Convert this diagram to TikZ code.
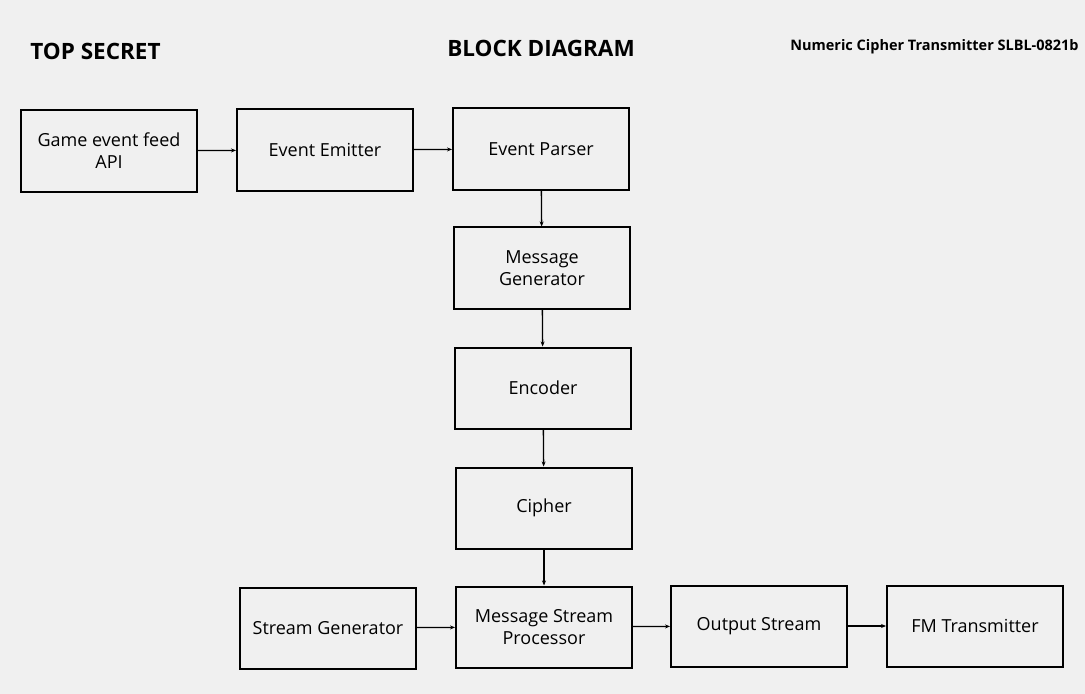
\documentclass[tikz,border=0pt]{standalone}
\usepackage{fontspec}
\setmainfont{Open Sans}
\usetikzlibrary{arrows.meta}
\definecolor{bg}{HTML}{F0F0F0}
\begin{document}
\begin{tikzpicture}[x=1bp,y=-1bp,
  blk/.style={draw=black,line width=2bp,fill=bg,minimum width=176bp,minimum height=81bp,align=center,inner sep=2bp,font=\fontsize{18bp}{22bp}\selectfont},
  conn/.style={draw=black,line width=1.3bp,-{Stealth[length=5bp,width=4bp]}},
  ttl/.style={font=\fontsize{22.5bp}{26bp}\selectfont\bfseries,inner sep=0pt}]
\fill[bg] (0,0) rectangle (1085,694);
\useasboundingbox (0,0) rectangle (1085,694);
\node[ttl] (t1) at (95.5,51) {TOP SECRET};
\node[ttl] (t2) at (541,48) {BLOCK DIAGRAM};
\node[ttl,font=\fontsize{14.5bp}{17bp}\selectfont\bfseries] (t3) at (934.5,47) {Numeric Cipher Transmitter SLBL-0821b};
\node[blk] (game) at (109,151) {Game event feed\\API};
\node[blk] (emit) at (325,150) {Event Emitter};
\node[blk] (parse) at (541,149) {Event Parser};
\node[blk] (msg) at (542,268) {Message\\Generator};
\node[blk] (enc) at (543,388) {Encoder};
\node[blk] (ciph) at (544,508) {Cipher};
\node[blk] (sgen) at (328,628) {Stream Generator};
\node[blk] (msp) at (544,627) {Message Stream\\Processor};
\node[blk] (out) at (759,626) {Output Stream};
\node[blk] (fm) at (975,626) {FM Transmitter};
\draw[conn] (game) -- (emit);
\draw[conn] (emit) -- (parse);
\draw[conn] (parse) -- (msg);
\draw[conn] (msg) -- (enc);
\draw[conn] (enc) -- (ciph);
\draw[conn] (ciph) -- (msp);
\draw[conn] (sgen) -- (msp);
\draw[conn] (msp) -- (out);
\draw[conn] (out) -- (fm);
\end{tikzpicture}
\end{document}
